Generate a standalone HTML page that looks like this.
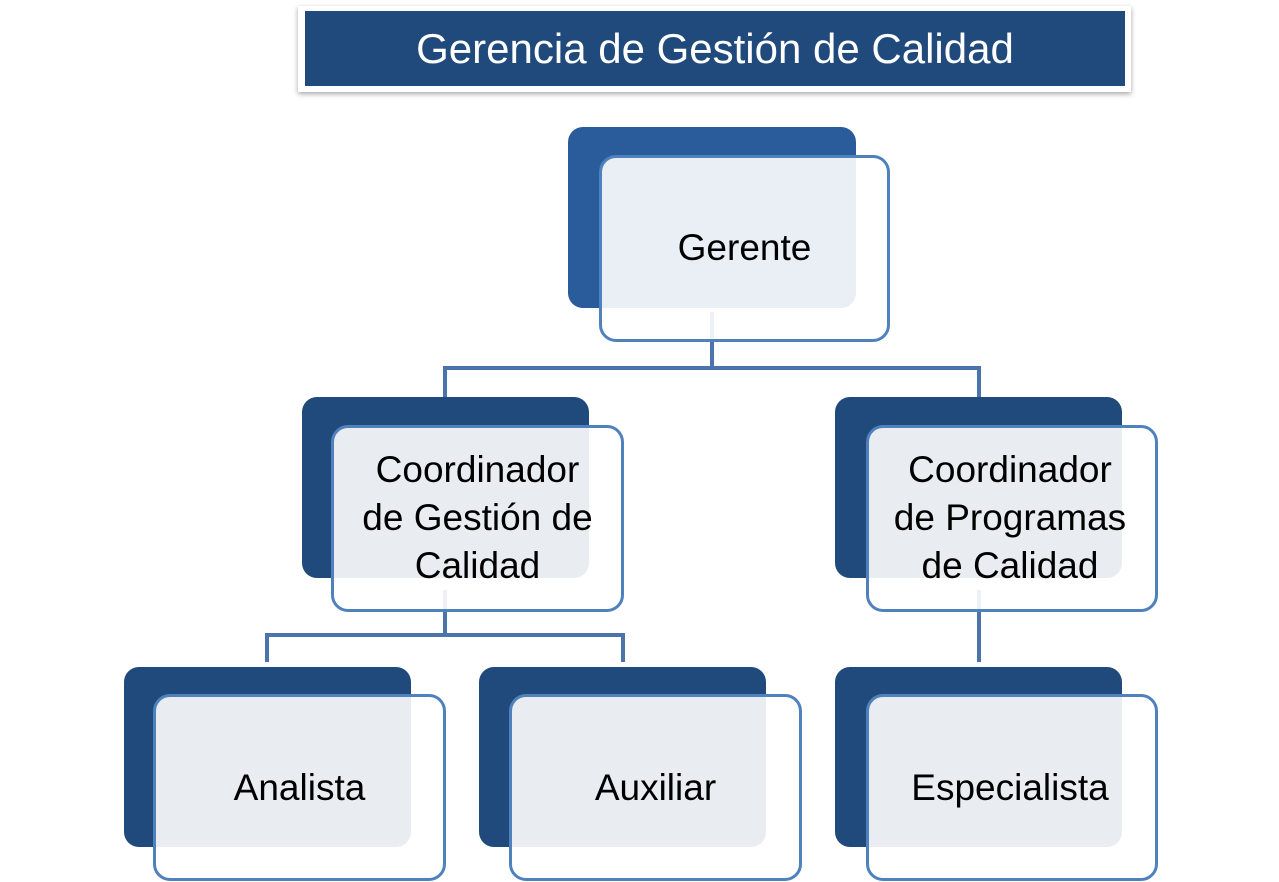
<!DOCTYPE html>
<html><head><style>
body{margin:0;width:1279px;height:882px;background:#fff;position:relative;overflow:hidden;font-family:"Liberation Sans",sans-serif}
.d,.f{position:absolute;box-sizing:border-box}
.d{background:#214a7c;border-radius:15px}
.f{background:rgba(255,255,255,0.9);border:3px solid #4f81bd;border-radius:17px;display:flex;align-items:center;justify-content:center;text-align:center;font-size:37px;line-height:48px;color:#000;white-space:nowrap}
.l{position:absolute;background:#4a74aa}
</style></head><body>
<div style="position:absolute;left:298px;top:6px;width:833px;height:86px;background:#fff;box-shadow:0 2px 5px rgba(0,0,0,.35)"></div>
<div style="position:absolute;left:305px;top:11px;width:820px;height:75px;background:#214a7c;color:#fff;font-size:42px;line-height:75px;text-align:center;font-weight:300">Gerencia de Gestión de Calidad</div>

<div class="l" style="left:710px;top:312px;width:4px;height:56px"></div>
<div class="l" style="left:443px;top:366px;width:538px;height:4px"></div>
<div class="l" style="left:443px;top:366px;width:4px;height:31px"></div>
<div class="l" style="left:977px;top:366px;width:4px;height:31px"></div>
<div class="l" style="left:443px;top:590px;width:4px;height:46px"></div>
<div class="l" style="left:265px;top:633px;width:360px;height:4px"></div>
<div class="l" style="left:265px;top:633px;width:4px;height:29px"></div>
<div class="l" style="left:621px;top:633px;width:4px;height:29px"></div>
<div class="l" style="left:977px;top:590px;width:4px;height:72px"></div>

<div class="d" style="left:568px;top:127px;width:288px;height:181px;background:#2a5b9a"></div>
<div class="f" style="left:599px;top:155px;width:291px;height:187px"><span style="position:relative;top:-1px">Gerente</span></div>

<div class="d" style="left:302px;top:397px;width:287px;height:181px"></div>
<div class="f" style="left:331px;top:425px;width:293px;height:187px;padding-bottom:2px">Coordinador<br>de Gestión de<br>Calidad</div>

<div class="d" style="left:835px;top:397px;width:287px;height:181px"></div>
<div class="f" style="left:866px;top:425px;width:292px;height:187px;padding-right:4px;padding-bottom:2px">Coordinador<br>de Programas<br>de Calidad</div>

<div class="d" style="left:124px;top:667px;width:287px;height:180px"></div>
<div class="f" style="left:153px;top:694px;width:293px;height:187px">Analista</div>

<div class="d" style="left:479px;top:667px;width:287px;height:180px"></div>
<div class="f" style="left:509px;top:694px;width:293px;height:187px">Auxiliar</div>

<div class="d" style="left:835px;top:667px;width:287px;height:180px"></div>
<div class="f" style="left:866px;top:694px;width:292px;height:187px;padding-right:4px">Especialista</div>
</body></html>
